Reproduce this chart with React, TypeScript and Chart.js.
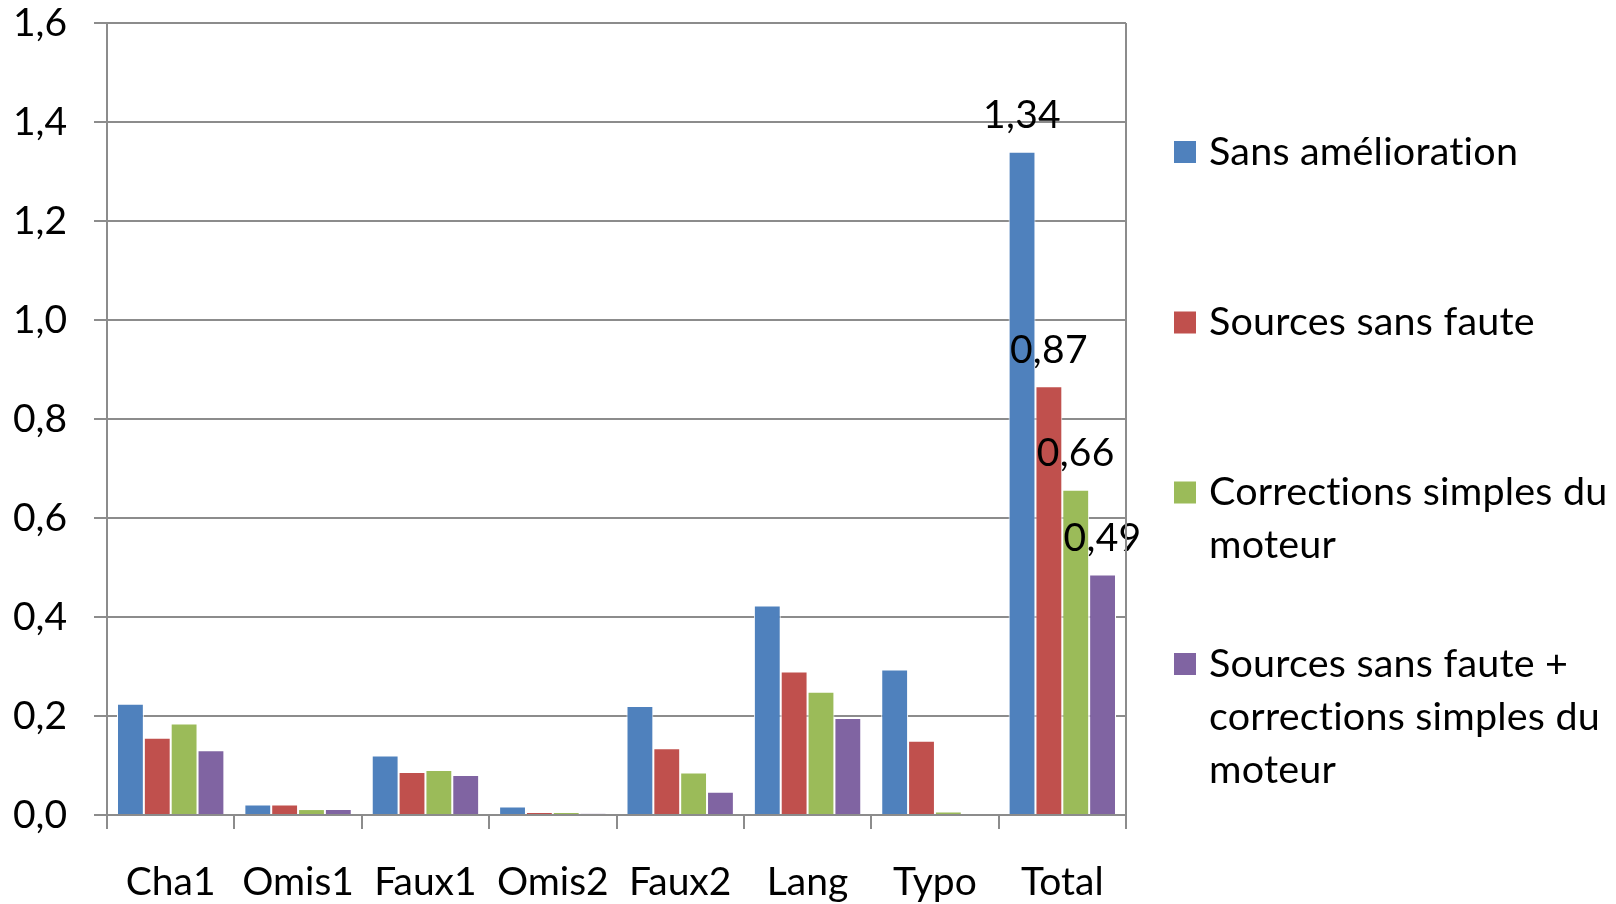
import React, { useEffect, useRef } from "react";
import { Chart, registerables } from "chart.js";

Chart.register(...registerables);

const categories = ["Cha1", "Omis1", "Faux1", "Omis2", "Faux2", "Lang", "Typo", "Total"];

const seriesNames = [
  "Sans amélioration",
  "Sources sans faute",
  "Corrections simples du moteur",
  "Sources sans faute + corrections simples du moteur",
];

const legendLines = [
  ["Sans amélioration"],
  ["Sources sans faute"],
  ["Corrections simples du", "moteur"],
  ["Sources sans faute +", "corrections simples du", "moteur"],
];

const sansAmelioration = [0.225, 0.021, 0.12, 0.017, 0.22, 0.423, 0.294, 1.34];
const sourcesSansFaute = [0.156, 0.021, 0.087, 0.006, 0.135, 0.29, 0.15, 0.866];
const correctionsSimples = [0.185, 0.012, 0.091, 0.006, 0.086, 0.249, 0.007, 0.657];
const sourcesPlusCorrections = [0.131, 0.012, 0.081, 0.003, 0.047, 0.196, 0, 0.486];

const seriesValues = [sansAmelioration, sourcesSansFaute, correctionsSimples, sourcesPlusCorrections];
const seriesColors = ["#4F81BD", "#C0504D", "#9BBB59", "#8064A2"];

const yMin = 0;
const yMax = 1.6;
const yStep = 0.2;
const labelledCategory = "Total";

const FONT = "Lato";
const GRID = "#8c8c8c";

const fmt = (v: number, d: number) => v.toFixed(d).replace(".", ",");

export default function App() {
  const ref = useRef<HTMLCanvasElement | null>(null);

  useEffect(() => {
    if (!ref.current) return;
    Chart.defaults.font.family = FONT;
    Chart.defaults.color = "#000";

    const labelIndex = categories.indexOf(labelledCategory);

    const rightBorder = {
      id: "rightBorder",
      afterDraw(chart: any) {
        const { ctx, chartArea } = chart;
        ctx.save();
        ctx.strokeStyle = GRID;
        ctx.lineWidth = 2;
        ctx.beginPath();
        ctx.moveTo(chartArea.right, chartArea.top);
        ctx.lineTo(chartArea.right, chartArea.bottom);
        ctx.stroke();
        ctx.restore();
      },
    };

    const valueLabels = {
      id: "valueLabels",
      afterDatasetsDraw(chart: any) {
        const { ctx } = chart;
        ctx.save();
        ctx.font = `39px ${FONT}`;
        (ctx as any).letterSpacing = "0.3px";
        ctx.fillStyle = "#000";
        ctx.textAlign = "center";
        ctx.textBaseline = "middle";
        chart.data.datasets.forEach((ds: any, i: number) => {
          const meta = chart.getDatasetMeta(i);
          const bar = meta.data[labelIndex];
          if (!bar) return;
          ctx.fillText(fmt(ds.data[labelIndex], 2), bar.x, bar.y - 36);
        });
        ctx.restore();
      },
    };

    const customLegend = {
      id: "customLegend",
      afterDraw(chart: any) {
        const { ctx } = chart;
        const itemTops = [152, 322.5, 492.5, 664];
        const lineH = 53;
        ctx.save();
        ctx.font = `39.5px ${FONT}`;
        (ctx as any).letterSpacing = "0.2px";
        ctx.textBaseline = "middle";
        ctx.textAlign = "left";
        legendLines.forEach((lines, i) => {
          const y0 = itemTops[i];
          ctx.fillStyle = seriesColors[i];
          ctx.fillRect(1174, y0 - 11, 22, 22);
          ctx.fillStyle = "#000";
          lines.forEach((t, j) => ctx.fillText(t, 1209, y0 + j * lineH));
        });
        ctx.restore();
      },
    };

    const chart = new Chart(ref.current, {
      type: "bar",
      data: {
        labels: categories,
        datasets: seriesValues.map((vals, i) => ({
          label: seriesNames[i],
          data: vals,
          backgroundColor: seriesColors[i],
          borderColor: "#ffffff",
          borderWidth: 1,
          categoryPercentage: 0.843,
          barPercentage: 1,
        })),
      },
      options: {
        animation: false,
        responsive: false,
        layout: { padding: { left: 0, top: 23, right: 490, bottom: 0 } },
        plugins: {
          legend: { display: false },
          tooltip: { enabled: false },
          title: { display: false },
        },
        scales: {
          x: {
            grid: {
              offset: true,
              drawOnChartArea: false,
              drawTicks: true,
              tickLength: 14,
              color: GRID,
              lineWidth: 2,
            },
            border: { display: true, color: GRID, width: 2 },
            ticks: {
              font: { family: FONT, size: 39, lineHeight: 1.2 },
              color: "#000",
              padding: 30,
              maxRotation: 0,
              autoSkip: false,
            },
            afterFit: (scale: any) => {
              scale.height = 89;
              scale.paddingLeft = 0;
              scale.paddingRight = 0;
            },
          },
          y: {
            min: yMin,
            max: yMax,
            grid: {
              color: GRID,
              lineWidth: 2,
              drawTicks: true,
              tickLength: 13,
            },
            border: { display: true, color: GRID, width: 2 },
            ticks: {
              stepSize: yStep,
              font: { family: FONT, size: 39, lineHeight: 1 },
              color: "#000",
              padding: 27,
              callback: (v: any) => fmt(Number(v), 1),
            },
            afterFit: (scale: any) => {
              scale.width = 107;
              scale.paddingTop = 0;
              scale.paddingBottom = 0;
            },
          },
        },
      },
      plugins: [rightBorder, valueLabels, customLegend],
    });

    return () => chart.destroy();
  }, []);

  return (
    <div style={{ position: "fixed", left: 0, top: 0, width: 1616, height: 904, background: "#fff" }}>
      <canvas ref={ref} width={1616} height={904} style={{ display: "block" }} />
    </div>
  );
}
